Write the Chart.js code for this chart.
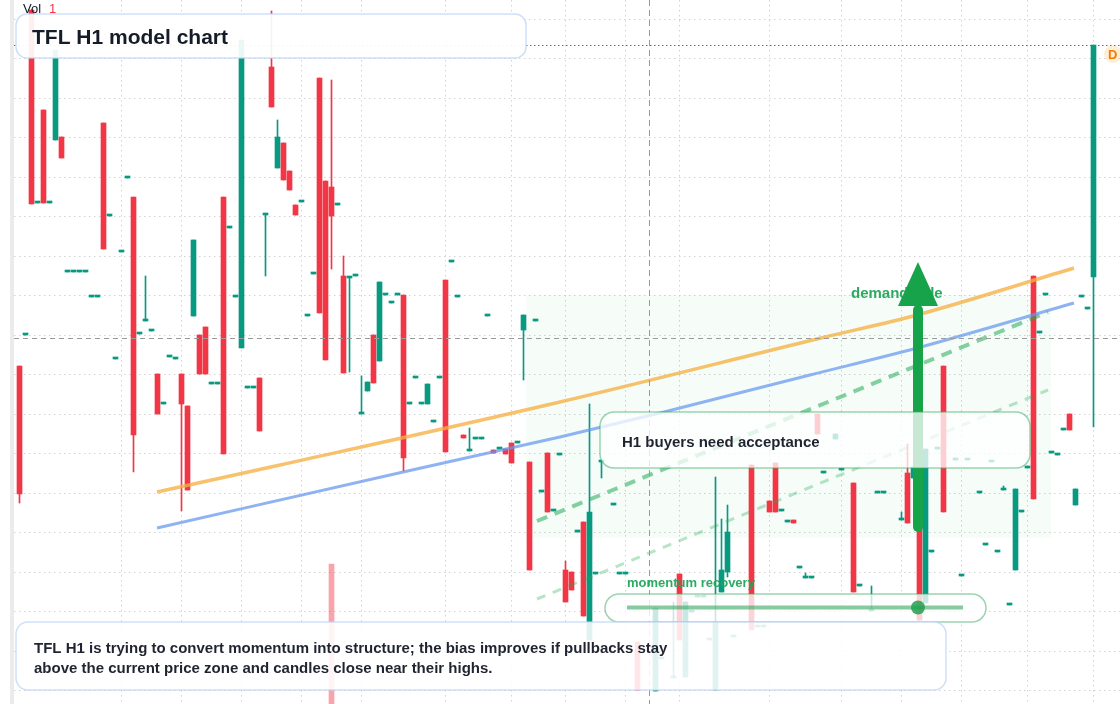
<!DOCTYPE html>
<html>
<head>
<meta charset="utf-8">
<script src="https://cdn.jsdelivr.net/npm/chart.js@4.4.1/dist/chart.umd.min.js"></script>
<style>
html,body{margin:0;padding:0;background:#ffffff;}
#wrap{position:relative;width:1120px;height:704px;}
canvas{display:block;}
</style>
</head>
<body>
<div id="wrap"><canvas id="c" width="1120" height="704"></canvas></div>
<script>
// ---- candle data (index 0..179), null = no candle visible ----
const opens = [
 33.8,36.9,69.4,50.1,59.4,50.1,56.4,56.7,43.2,43.2,
 43.2,43.2,40.7,40.7,58.1,48.8,34.5,45.2,52.6,50.7,
 37.0,38.3,37.3,33.0,30.0,34.7,34.5,33.0,29.8,38.8,
 36.9,37.7,32.0,32.0,50.7,47.6,40.7,35.6,31.6,31.6,
 32.6,48.9,63.7,53.6,56.1,53.3,49.9,50.2,38.8,43.0,
 62.6,52.3,51.7,49.9,42.8,42.6,42.8,29.0,31.3,36.9,
 34.3,40.9,40.1,40.9,40.9,30.0,32.6,30.0,30.0,28.2,
 32.6,42.4,44.2,40.7,26.9,25.3,26.5,26.5,38.8,25.4,
 25.5,25.5,26.1,26.1,37.4,24.2,38.3,21.2,25.1,19.3,
 24.9,13.4,13.2,17.2,18.2,6.4,13.0,24.2,null,19.9,
 13.0,13.0,null,6.2,null,null,1.3,4.5,null,2.6,
 13.0,2.7,9.2,10.7,10.7,6.4,1.4,11.2,13.2,6.7,
 null,null,23.9,7.7,7.7,20.3,24.1,19.3,18.2,18.4,
 13.6,12.6,12.6,29.0,23.1,null,26.5,23.4,null,22.1,
 11.8,null,9.3,21.1,21.1,null,null,18.4,23.1,22.6,
 19.9,10.1,15.2,25.5,33.8,null,24.4,12.8,24.4,null,
 21.1,15.9,24.2,15.2,21.4,9.9,13.4,19.2,23.6,42.8,
 37.1,40.9,25.1,24.9,27.4,29.0,19.9,40.7,39.5,42.7
];
const closes = [
 21.0,36.9,50.0,50.1,50.1,50.1,65.4,54.6,43.2,43.2,
 43.2,43.2,40.7,40.7,45.5,48.8,34.5,45.2,52.6,26.9,
 37.0,38.3,37.3,29.0,30.0,34.7,34.5,30.0,21.4,46.4,
 33.0,33.0,32.0,32.0,25.0,47.6,40.7,66.4,31.6,31.6,
 27.3,48.9,59.7,56.7,52.4,51.4,48.9,50.2,38.8,43.0,
 39.1,34.4,48.8,49.9,33.1,42.6,42.8,29.0,32.2,32.1,
 42.2,40.9,40.1,40.9,24.6,30.0,32.6,30.0,32.0,28.2,
 32.6,25.2,44.2,40.7,26.6,25.3,26.5,26.5,38.8,25.1,
 25.5,25.0,24.1,26.1,38.9,13.4,38.3,21.2,19.2,19.3,
 24.9,10.2,11.4,17.2,8.8,19.2,13.0,24.2,null,19.9,
 13.0,13.0,null,1.4,null,null,9.6,4.5,null,2.6,
 6.4,10.2,9.2,10.7,10.7,6.4,8.2,13.4,17.2,6.7,
 null,null,7.4,7.7,7.7,19.2,19.2,19.3,18.2,18.1,
 13.6,12.6,12.6,27.0,23.1,null,27.0,23.4,null,11.2,
 11.8,null,9.3,21.1,21.1,null,null,18.4,18.1,23.7,
 8.4,25.5,15.2,25.5,19.2,null,24.4,12.8,24.4,null,
 21.1,15.9,24.2,15.2,21.4,9.9,21.5,19.2,23.6,20.5,
 37.1,40.9,25.1,24.9,27.4,27.4,21.5,40.7,39.5,65.9
];
const highs = [
 33.8,36.9,69.4,50.1,59.4,50.1,65.4,56.7,43.2,43.2,
 43.2,43.2,40.7,40.7,58.1,48.8,34.5,45.2,52.6,50.7,
 37.0,42.8,37.3,33.0,30.0,34.7,34.5,33.0,29.8,46.4,
 36.9,37.7,32.0,32.0,50.7,47.6,40.7,66.4,31.6,31.6,
 32.6,48.9,69.3,58.4,56.1,53.3,49.9,50.2,38.8,43.0,
 62.6,52.3,62.4,49.9,44.8,42.6,42.8,32.8,32.2,36.9,
 42.2,40.9,40.1,40.9,40.9,30.0,32.6,30.0,32.0,28.2,
 32.6,42.4,44.2,40.7,26.9,27.6,26.5,26.5,38.8,25.4,
 25.5,25.5,26.1,26.1,38.9,24.2,38.3,21.2,25.1,19.3,
 24.9,14.3,13.2,17.2,18.2,30.0,13.0,24.2,null,19.9,
 13.0,13.0,null,6.2,null,null,9.6,4.5,null,10.2,
 13.0,10.2,9.2,10.7,10.7,6.4,22.7,18.5,19.9,6.7,
 null,null,23.9,7.7,7.7,20.3,24.1,19.3,18.2,18.4,
 13.6,13.1,12.6,29.0,23.1,null,27.0,23.4,null,22.1,
 11.8,null,11.8,21.1,21.1,null,null,19.2,26.0,23.7,
 19.9,25.5,15.2,25.5,33.8,null,24.4,12.8,24.4,null,
 21.1,15.9,24.2,15.2,21.8,9.9,21.5,19.2,23.6,42.8,
 37.1,40.9,25.1,24.9,27.4,29.0,21.5,40.7,39.5,65.9
];
const lows = [
 20.1,36.9,50.0,50.1,50.1,50.1,56.4,54.6,43.2,43.2,
 43.2,43.2,40.7,40.7,45.5,48.8,34.5,45.2,52.6,23.2,
 37.0,38.3,37.3,29.0,30.0,34.7,34.5,19.3,21.4,38.8,
 33.0,33.0,32.0,32.0,25.0,47.6,40.7,35.6,31.6,31.6,
 27.3,42.8,59.7,53.6,52.4,51.4,48.9,50.2,38.8,43.0,
 39.1,34.4,43.5,49.9,33.1,33.2,42.8,29.0,31.3,32.1,
 34.3,40.9,40.1,40.9,23.3,30.0,32.6,30.0,30.0,28.2,
 32.6,25.2,44.2,40.7,26.6,25.3,26.5,26.5,38.8,25.1,
 25.5,25.0,24.1,26.1,32.4,13.4,38.3,21.2,19.2,19.3,
 24.9,10.2,11.4,17.2,8.8,6.4,13.0,22.6,null,19.9,
 13.0,13.0,null,1.4,null,null,1.3,4.5,null,2.6,
 6.4,2.7,9.2,10.7,10.7,6.4,1.4,11.2,12.7,6.7,
 null,null,7.4,7.7,7.7,19.2,19.2,19.3,18.2,18.1,
 13.6,12.6,12.6,27.0,23.1,null,26.5,23.4,null,11.2,
 11.8,null,9.3,21.1,21.1,null,null,18.4,18.1,22.6,
 8.4,10.1,15.2,25.5,19.2,null,24.4,12.8,24.4,null,
 21.1,15.9,24.2,15.2,21.4,9.9,13.4,19.2,23.6,20.5,
 37.1,40.9,25.1,24.9,27.4,27.4,19.9,40.7,39.5,27.7
];
// volume overlay (only visible bar)
const volumeIdx = [52];
const volumeVals = [14.0];

// moving averages / trend lines (candle index, price)
const emaX = [22.92, 43.42, 90.08, 133.58, 149.58, 175.75];
const emaY = [21.2, 23.9, 30.2, 36.6, 38.9, 43.6];
const smaX = [22.92, 65.42, 90.08, 107.42, 131.75, 149.58, 175.75];
const smaY = [17.6, 23.4, 26.7, 29.2, 32.9, 35.6, 40.1];
const trendX = [86.25, 171.42];
const trendY = [18.3, 39.2];
const trendLowY = [10.5, 31.4];

// grid (time & price ticks; labels hidden in reference)
const xTickIdx = [17,27,37,47,57,71,82,91,101,110,125,137,147,157,168,179];
const yTickVals = [68.5,64.55,60.6,56.65,52.7,48.75,44.8,40.85,36.9,32.95,29.0,25.05,21.1,17.15,13.2,9.25,5.3,1.35];

// annotations in data coordinates
const zoneIdx = [84.4, 171.9];
const zoneVal = [16.6, 40.9];
const arrowIdx = 149.75;
const arrowVal = [17.2, 39.8, 44.2]; // tail, head base, tip
const crossIdx = 104.9;
const crossVal = 36.6;

const UP = '#089981', DN = '#f23645';
const FONT = '"Liberation Sans", Arial, sans-serif';

const idx = opens.map((o, i) => i).filter(i => opens[i] !== null);
const isUp = i => closes[i] >= opens[i];
const bodyData = idx.map(i => ({x: i, y: [opens[i], closes[i]]}));
const wickData = idx.map(i => ({x: i, y: [lows[i], highs[i]]}));
const colors = idx.map(i => isUp(i) ? UP : DN);
const volData = volumeIdx.map((v, k) => ({x: v, y: [0, volumeVals[k]]}));
const volColors = volumeIdx.map(i => (opens[i] !== null && isUp(i)) ? 'rgba(8,153,129,0.4)' : 'rgba(242,54,69,0.45)');
const pts = (xs, ys) => xs.map((x, k) => ({x: x, y: ys[k]}));

function rrect(ctx, x, y, w, h, r, fill, stroke, lw) {
  ctx.beginPath();
  ctx.roundRect(x, y, w, h, r);
  if (fill) { ctx.fillStyle = fill; ctx.fill(); }
  if (stroke) { ctx.lineWidth = lw || 1; ctx.strokeStyle = stroke; ctx.stroke(); }
}

const deco = {
  id: 'deco',
  beforeDraw(chart) {
    const ctx = chart.ctx;
    ctx.save();
    ctx.fillStyle = '#ffffff';
    ctx.fillRect(0, 0, chart.width, chart.height);
    ctx.fillStyle = '#ebebeb';
    ctx.fillRect(10, 0, 4, chart.height);
    ctx.restore();
  },
  beforeDatasetsDraw(chart) {
    const ctx = chart.ctx, xs = chart.scales.x, ys = chart.scales.y;
    ctx.save();
    const x0 = xs.getPixelForValue(zoneIdx[0]), x1 = xs.getPixelForValue(zoneIdx[1]);
    const y0 = ys.getPixelForValue(zoneVal[1]), y1 = ys.getPixelForValue(zoneVal[0]);
    ctx.fillStyle = 'rgba(34,197,94,0.04)';
    ctx.fillRect(x0, y0, x1 - x0, y1 - y0);
    ctx.restore();
  },
  afterDatasetsDraw(chart) {
    const ctx = chart.ctx, xs = chart.scales.x, ys = chart.scales.y;
    const W = chart.width, H = chart.height;
    ctx.save();
    ctx.textBaseline = 'middle';
    // crosshair
    ctx.strokeStyle = '#9a9a9a';
    ctx.lineWidth = 1;
    ctx.setLineDash([6, 4]);
    const cx = Math.round(xs.getPixelForValue(crossIdx)) + 0.5;
    ctx.beginPath(); ctx.moveTo(cx, 0); ctx.lineTo(cx, H); ctx.stroke();
    ctx.setLineDash([5, 4]);
    const cy = Math.round(ys.getPixelForValue(crossVal)) + 0.5;
    ctx.beginPath(); ctx.moveTo(14, cy); ctx.lineTo(W, cy); ctx.stroke();
    // last price line
    const py = Math.round(ys.getPixelForValue(closes[closes.length - 1])) + 0.5;
    ctx.strokeStyle = UP;
    ctx.setLineDash([1.5, 2.5]);
    ctx.beginPath(); ctx.moveTo(14, py); ctx.lineTo(W, py); ctx.stroke();
    ctx.setLineDash([]);
    // D badge
    ctx.fillStyle = 'rgba(255,152,0,0.16)';
    ctx.beginPath(); ctx.arc(1113, 54, 9, 0, Math.PI * 2); ctx.fill();
    ctx.fillStyle = '#f57c00';
    ctx.font = 'bold 13px ' + FONT;
    ctx.fillText('D', 1108, 55);

    // demand label + arrow
    ctx.fillStyle = 'rgba(34,165,90,0.95)';
    ctx.font = 'bold 15px ' + FONT;
    ctx.fillText('demand side', 851, ys.getPixelForValue(41.0));
    const ax = xs.getPixelForValue(arrowIdx);
    const aTail = ys.getPixelForValue(arrowVal[0]);
    const aBase = ys.getPixelForValue(arrowVal[1]);
    const aTip = ys.getPixelForValue(arrowVal[2]);
    ctx.strokeStyle = '#16a34a';
    ctx.lineWidth = 10;
    ctx.lineCap = 'round';
    ctx.beginPath(); ctx.moveTo(ax, aTail - 5); ctx.lineTo(ax, aBase + 4); ctx.stroke();
    ctx.lineCap = 'butt';
    ctx.fillStyle = '#16a34a';
    ctx.beginPath(); ctx.moveTo(ax, aTip); ctx.lineTo(ax + 20, aBase); ctx.lineTo(ax - 20, aBase); ctx.closePath(); ctx.fill();

    // H1 box
    rrect(ctx, 600, 412, 430, 56, 14, 'rgba(255,255,255,0.76)', 'rgba(60,170,100,0.5)', 1.5);
    ctx.fillStyle = '#1f2430';
    ctx.font = 'bold 15px ' + FONT;
    ctx.fillText('H1 buyers need acceptance', 622, 442.5);

    // momentum
    ctx.fillStyle = 'rgba(34,165,90,0.95)';
    ctx.font = 'bold 13px ' + FONT;
    ctx.fillText('momentum recovery', 627, 583.5);
    rrect(ctx, 605, 594, 381, 28, 14, 'rgba(255,255,255,0.78)', 'rgba(60,170,100,0.5)', 1.5);
    ctx.strokeStyle = 'rgba(34,160,80,0.55)';
    ctx.lineWidth = 4;
    ctx.beginPath(); ctx.moveTo(627, 607.5); ctx.lineTo(963, 607.5); ctx.stroke();
    ctx.fillStyle = 'rgba(34,160,80,0.85)';
    ctx.beginPath(); ctx.arc(918, 607.5, 7, 0, Math.PI * 2); ctx.fill();

    // title box
    rrect(ctx, 16, 14, 510, 44, 11, 'rgba(255,255,255,0.92)', 'rgba(190,212,245,0.75)', 1.5);
    ctx.fillStyle = '#151b28';
    ctx.font = 'bold 21px ' + FONT;
    ctx.fillText('TFL H1 model chart', 32, 38);

    // bottom note box
    rrect(ctx, 16, 622, 930, 68, 12, 'rgba(255,255,255,0.88)', 'rgba(190,212,245,0.75)', 1.5);
    ctx.fillStyle = '#1f2430';
    ctx.font = 'bold 15px ' + FONT;
    ctx.fillText('TFL H1 is trying to convert momentum into structure; the bias improves if pullbacks stay', 34, 648.5);
    ctx.fillText('above the current price zone and candles close near their highs.', 34, 668.5);

    // Vol legend
    ctx.font = '13px ' + FONT;
    ctx.fillStyle = '#131722';
    ctx.fillText('Vol', 23, 9.5);
    ctx.fillStyle = '#f23645';
    ctx.fillText('1', 49, 9.5);
    ctx.restore();
  }
};

const gridCfg = {color: '#d2d2d2', lineWidth: 1, drawTicks: false, offset: false};
const borderCfg = {display: false, dash: [1.5, 3.5]};

new Chart(document.getElementById('c'), {
  type: 'bar',
  data: {
    datasets: [
      {type: 'line', data: pts(emaX, emaY), borderColor: 'rgba(246,176,66,0.78)', borderWidth: 3.5, pointRadius: 0, cubicInterpolationMode: 'monotone', order: 1},
      {type: 'line', data: pts(smaX, smaY), borderColor: 'rgba(100,149,237,0.72)', borderWidth: 3, pointRadius: 0, cubicInterpolationMode: 'monotone', order: 1},
      {type: 'line', data: pts(trendX, trendY), borderColor: 'rgba(34,170,85,0.55)', borderWidth: 4, borderDash: [11, 8], pointRadius: 0, order: 1},
      {type: 'line', data: pts(trendX, trendLowY), borderColor: 'rgba(34,170,85,0.32)', borderWidth: 3, borderDash: [9, 8], pointRadius: 0, order: 1},
      {type: 'bar', data: bodyData, backgroundColor: colors, barThickness: 5, minBarLength: 2, grouped: false, borderWidth: 0, order: 4},
      {type: 'bar', data: wickData, backgroundColor: colors, barThickness: 1, grouped: false, borderWidth: 0, order: 5},
      {type: 'bar', data: volData, backgroundColor: volColors, barThickness: 5, grouped: false, borderWidth: 0, order: 6}
    ]
  },
  options: {
    responsive: false,
    devicePixelRatio: 1,
    animation: false,
    events: [],
    layout: {padding: {left: 14, right: 0, top: 0, bottom: 0}},
    plugins: {legend: {display: false}, tooltip: {enabled: false}},
    scales: {
      x: {
        type: 'linear', min: -0.9167, max: 183.4167, offset: false,
        afterBuildTicks: s => { s.ticks = xTickIdx.map(v => ({value: v})); },
        ticks: {display: false}, grid: gridCfg, border: borderCfg
      },
      y: {
        type: 'linear', min: 0, max: 70.4,
        afterBuildTicks: s => { s.ticks = yTickVals.map(v => ({value: v})); },
        ticks: {display: false}, grid: gridCfg, border: borderCfg
      }
    }
  },
  plugins: [deco]
});
</script>
</body>
</html>
